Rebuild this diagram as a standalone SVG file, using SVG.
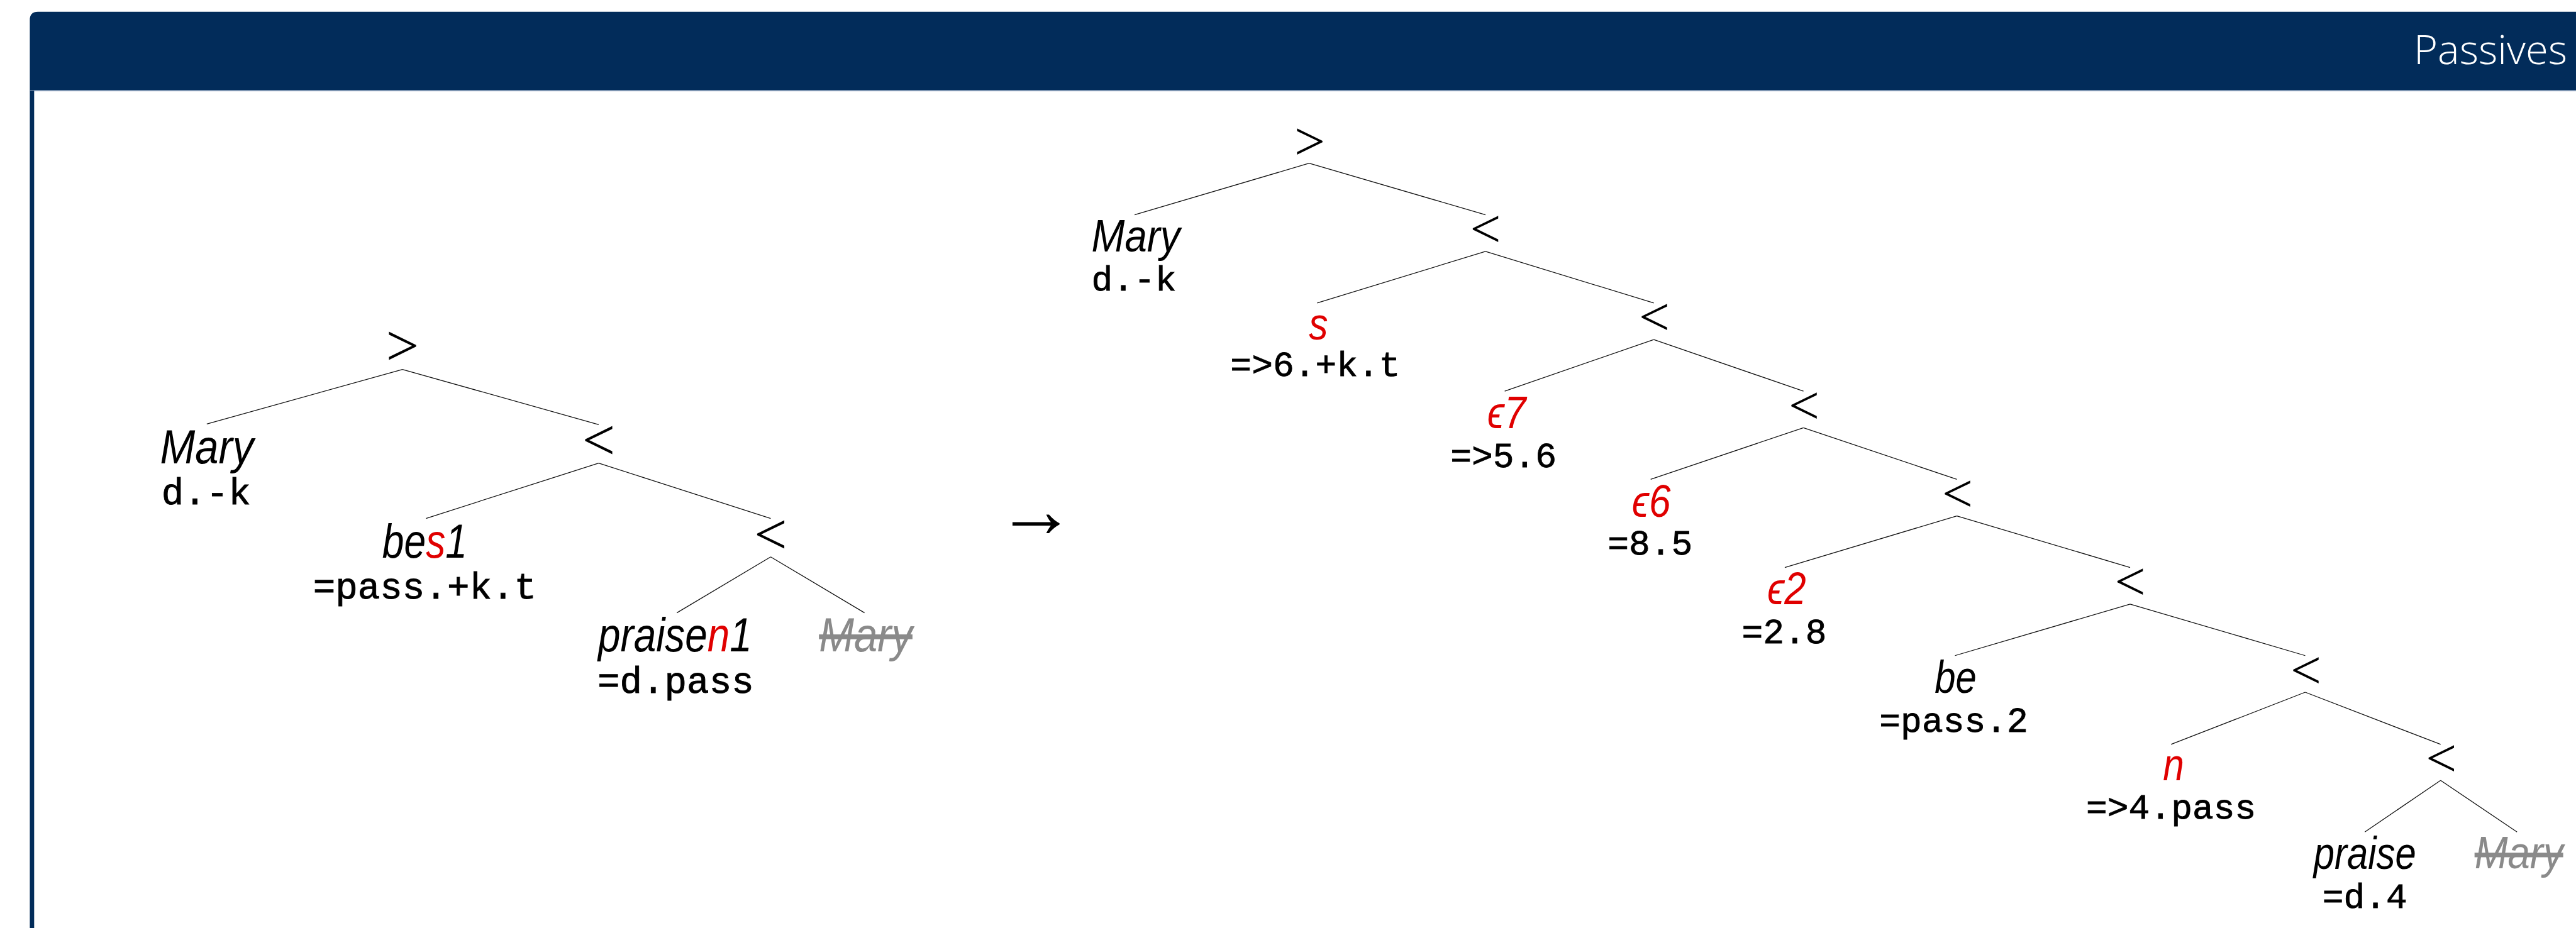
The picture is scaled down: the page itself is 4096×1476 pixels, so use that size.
<svg xmlns="http://www.w3.org/2000/svg" width="4096" height="1476" viewBox="0 0 4096 1476">
<style>
.lab{font-family:"Liberation Sans","DejaVu Sans",sans-serif;font-style:italic;text-anchor:middle;fill:#000}
.labL{font-size:77px}
.labR{font-size:73px}
.feat{font-family:"Liberation Mono","DejaVu Sans Mono",monospace;text-anchor:middle;fill:#000;stroke:#000;stroke-width:0.9px}
.featL{font-size:60px}
.featR{font-size:57px}
.op{font-family:"Liberation Serif","DejaVu Serif",serif;text-anchor:middle;fill:#000}
.opL{font-size:94px}
.opR{font-size:88px}
.red{fill:#e00000}
.gone{fill:#8a8a8a;text-decoration:line-through}
.edge{stroke:#111;stroke-width:1.3;fill:none}
.navy{fill:#022c5a}
</style>
<rect width="4096" height="1476" fill="#ffffff"/>
<g transform="scale(0.98746)">
  <g id="frame">
    <path class="navy" d="M48,146 V32 Q48,19 61,19 H4148 V146 Z"/>
    <rect x="48" y="145" width="4100" height="2" fill="#8ea2bc"/>
    <rect class="navy" x="48" y="146" width="7" height="1349"/>
    <text x="4134" y="103" font-family="'Open Sans','Liberation Sans',sans-serif" font-weight="300" font-size="66" fill="#ffffff" text-anchor="end">Passives</text>
  </g>

  <g id="connectors">
    <line class="edge" x1="648" y1="595" x2="333" y2="683"/>
    <line class="edge" x1="648" y1="595" x2="964" y2="684"/>
    <line class="edge" x1="964" y1="746" x2="686" y2="835"/>
    <line class="edge" x1="964" y1="746" x2="1241" y2="835"/>
    <line class="edge" x1="1241" y1="897" x2="1090" y2="987"/>
    <line class="edge" x1="1241" y1="897" x2="1392" y2="987"/>

    <line class="edge" x1="2108" y1="263" x2="1827" y2="346"/>
    <line class="edge" x1="2108" y1="263" x2="2392" y2="346"/>
    <line class="edge" x1="2392" y1="405" x2="2121" y2="488"/>
    <line class="edge" x1="2392" y1="405" x2="2663" y2="488"/>
    <line class="edge" x1="2663" y1="547" x2="2423" y2="630"/>
    <line class="edge" x1="2663" y1="547" x2="2904" y2="630"/>
    <line class="edge" x1="2904" y1="689" x2="2658" y2="772"/>
    <line class="edge" x1="2904" y1="689" x2="3151" y2="772"/>
    <line class="edge" x1="3151" y1="831" x2="2874" y2="914"/>
    <line class="edge" x1="3151" y1="831" x2="3430" y2="914"/>
    <line class="edge" x1="3430" y1="973" x2="3148" y2="1056"/>
    <line class="edge" x1="3430" y1="973" x2="3712" y2="1056"/>
    <line class="edge" x1="3712" y1="1115" x2="3496" y2="1199"/>
    <line class="edge" x1="3712" y1="1115" x2="3930" y2="1199"/>
    <line class="edge" x1="3930" y1="1257" x2="3808" y2="1340"/>
    <line class="edge" x1="3930" y1="1257" x2="4053" y2="1340"/>
  </g>

  <!-- left tree -->
  <g id="L0"><text class="op opL" x="648" y="588">&gt;</text></g>
  <g id="L1">
    <text class="lab labL" transform="translate(333,746) scale(0.88,1)">Mary</text>
    <text class="feat featL" x="332" y="812">d.-k</text>
  </g>
  <g id="L2"><text class="op opL" x="964" y="740">&lt;</text></g>
  <g id="L3">
    <text class="lab labL" transform="translate(684,898) scale(0.82,1)">be<tspan class="red">s</tspan>1</text>
    <text class="feat featL" x="684" y="964">=pass.+k.t</text>
  </g>
  <g id="L4"><text class="op opL" x="1241" y="892">&lt;</text></g>
  <g id="L5">
    <text class="lab labL" transform="translate(1087,1049) scale(0.84,1)">praise<tspan class="red">n</tspan>1</text>
    <text class="feat featL" x="1088" y="1116">=d.pass</text>
  </g>
  <g id="L6">
    <text class="lab labL gone" transform="translate(1394,1049) scale(0.88,1)">Mary</text>
  </g>

  <g id="arrow"><text x="1668" y="865" font-family="'Liberation Sans','DejaVu Sans',sans-serif" font-size="128" text-anchor="middle" fill="#000">→</text></g>

  <!-- right tree -->
  <g id="R0"><text class="op opR" x="2109" y="257">&gt;</text></g>
  <g id="R1">
    <text class="lab labR" transform="translate(1829,405) scale(0.88,1)">Mary</text>
    <text class="feat featR" x="1826" y="468">d.-k</text>
  </g>
  <g id="R2"><text class="op opR" x="2392" y="398">&lt;</text></g>
  <g id="R3">
    <text class="lab labR red" transform="translate(2123,547) scale(0.84,1)">s</text>
    <text class="feat featR" x="2118" y="606">=&gt;6.+k.t</text>
  </g>
  <g id="R4"><text class="op opR" x="2664" y="540">&lt;</text></g>
  <g id="R5">
    <text class="lab labR red" transform="translate(2426,690) scale(0.86,1)">ϵ7</text>
    <text class="feat featR" x="2421" y="752">=&gt;5.6</text>
  </g>
  <g id="R6"><text class="op opR" x="2905" y="683">&lt;</text></g>
  <g id="R7">
    <text class="lab labR red" transform="translate(2659,832) scale(0.86,1)">ϵ6</text>
    <text class="feat featR" x="2657" y="893">=8.5</text>
  </g>
  <g id="R8"><text class="op opR" x="3152" y="824">&lt;</text></g>
  <g id="R9">
    <text class="lab labR red" transform="translate(2877,973) scale(0.86,1)">ϵ2</text>
    <text class="feat featR" x="2873" y="1036">=2.8</text>
  </g>
  <g id="R10"><text class="op opR" x="3430" y="966">&lt;</text></g>
  <g id="R11">
    <text class="lab labR" transform="translate(3149,1116) scale(0.83,1)">be</text>
    <text class="feat featR" x="3146" y="1179">=pass.2</text>
  </g>
  <g id="R12"><text class="op opR" x="3713" y="1109">&lt;</text></g>
  <g id="R13">
    <text class="lab labR red" transform="translate(3500,1257) scale(0.84,1)">n</text>
    <text class="feat featR" x="3496" y="1319">=&gt;4.pass</text>
  </g>
  <g id="R14"><text class="op opR" x="3931" y="1251">&lt;</text></g>
  <g id="R15">
    <text class="lab labR" transform="translate(3808,1400) scale(0.83,1)">praise</text>
    <text class="feat featR" x="3808" y="1462">=d.4</text>
  </g>
  <g id="R16">
    <text class="lab labR gone" transform="translate(4056,1399) scale(0.88,1)">Mary</text>
  </g>
</g>
</svg>
